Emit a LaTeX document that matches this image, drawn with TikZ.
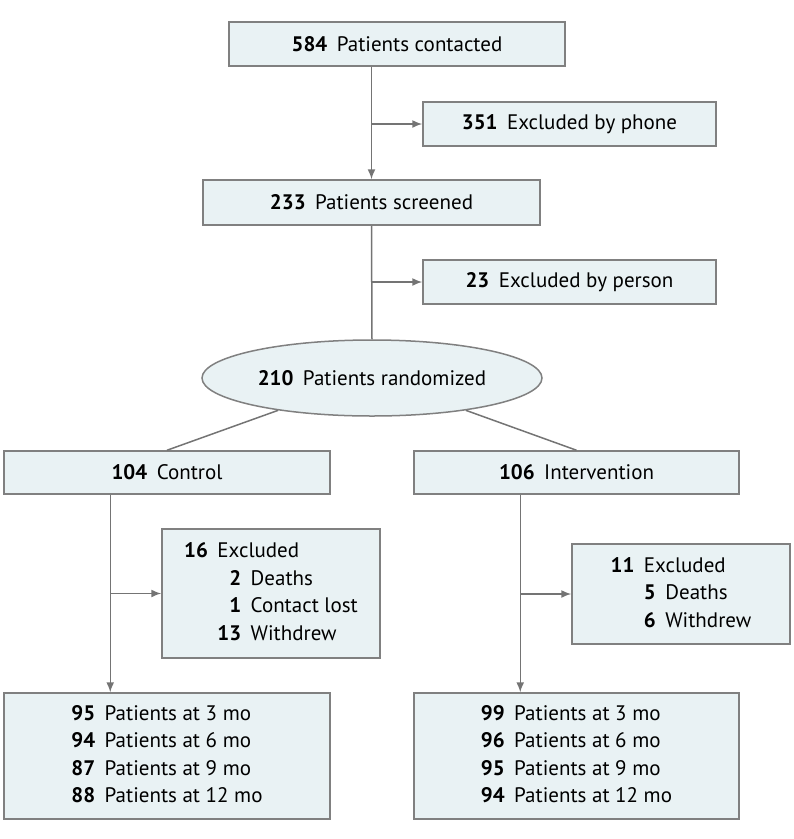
\documentclass[tikz,border=0pt]{standalone}
\usepackage{fontspec}
\setmainfont{PT Sans}
\usetikzlibrary{shapes.geometric,arrows.meta,calc}

\definecolor{boxfill}{HTML}{E9F2F4}
\definecolor{boxline}{HTML}{808080}
\definecolor{flowline}{HTML}{747474}

\tikzstyle{box} = [rectangle, draw=boxline, fill=boxfill, line width=1.5pt,
                   inner sep=0pt, text centered,
                   font=\fontsize{21}{27.5}\selectfont]
\tikzstyle{ovalbox} = [ellipse, draw=boxline, fill=boxfill, line width=1.5pt,
                       inner sep=0pt, text centered,
                       font=\fontsize{21}{27.5}\selectfont]
\tikzstyle{arrow} = [line width=1.5pt, draw=flowline, ->,
                     >={Latex[length=10pt,width=8pt]}]
\tikzstyle{line} = [line width=1.5pt, draw=flowline]

\newcommand{\cnt}[2]{\textbf{#1}\hspace{0.45em}#2}

\begin{document}
\begin{tikzpicture}[x=1pt,y=-1pt]
  \useasboundingbox (0,0) rectangle (794,839);
  %screening
  \node (contact) [box, minimum width=336pt, minimum height=44pt] at (397,44)
        {\cnt{584}{Patients contacted}};
  \node (phone) [box, minimum width=293pt, minimum height=44pt] at (569.5,124)
        {\cnt{351}{Excluded by phone}};
  \node (screen) [box, minimum width=337pt, minimum height=45pt] at (371.5,202.5)
        {\cnt{233}{Patients screened}};
  \node (person) [box, minimum width=293pt, minimum height=44pt] at (569.5,282)
        {\cnt{23}{Excluded by person}};
  \node (rand) [ovalbox, minimum width=340pt, minimum height=76pt] at (372,378)
        {\cnt{210}{Patients randomized}};
  %arms
  \node (control) [box, minimum width=326pt, minimum height=43pt] at (167,472.5)
        {\cnt{104}{Control}};
  \node (interv) [box, minimum width=325pt, minimum height=43pt] at (576.5,472.5)
        {\cnt{106}{Intervention}};
  \node (exctrl) [box, minimum width=218pt, minimum height=129pt] at (271,593.5)
        {\begin{tabular}{@{}l@{}r@{\hspace{0.45em}}l@{}}
          \textbf{16}\hspace{0.45em} & \multicolumn{2}{@{}l@{}}{Excluded}\\
          & \textbf{2} & Deaths\\
          & \textbf{1} & Contact lost\\
          & \textbf{13} & Withdrew
        \end{tabular}};
  \node (exint) [box, minimum width=218pt, minimum height=100pt] at (681,594)
        {\begin{tabular}{@{}l@{}r@{\hspace{0.45em}}l@{}}
          \textbf{11}\hspace{0.45em} & \multicolumn{2}{@{}l@{}}{Excluded}\\
          & \textbf{5} & Deaths\\
          & \textbf{6} & Withdrew
        \end{tabular}};
  %follow-up
  \node (fuctrl) [box, minimum width=326pt, minimum height=126pt] at (167,756)
        {\begin{tabular}{@{}r@{\hspace{0.45em}}l@{}}
          \textbf{95} & Patients at 3 mo\\
          \textbf{94} & Patients at 6 mo\\
          \textbf{87} & Patients at 9 mo\\
          \textbf{88} & Patients at 12 mo
        \end{tabular}};
  \node (fuint) [box, minimum width=325pt, minimum height=126pt] at (576.5,756)
        {\begin{tabular}{@{}r@{\hspace{0.45em}}l@{}}
          \textbf{99} & Patients at 3 mo\\
          \textbf{96} & Patients at 6 mo\\
          \textbf{95} & Patients at 9 mo\\
          \textbf{94} & Patients at 12 mo
        \end{tabular}};
  %connections
  \draw [arrow] (screen.north |- contact.south) -- (screen.north);
  \draw [arrow] (phone.west -| screen.north) -- (phone.west);
  \draw [line] (screen.south) -- (rand.north);
  \draw [arrow] (person.west -| screen.south) -- (person.west);
  % rand -> arms
  \draw [line] (rand.199) -- (control.north);
  \draw [line] (rand.341) -- (interv.north);
  % control arm
  \coordinate (ctrldrop) at ($(control.south west)+(107,0)$);
  \draw [arrow] (ctrldrop) -- (ctrldrop |- fuctrl.north);
  \draw [arrow] (exctrl.west -| ctrldrop) -- (exctrl.west);
  % intervention arm
  \coordinate (intdrop) at ($(interv.south west)+(107,0)$);
  \draw [arrow] (intdrop) -- (intdrop |- fuint.north);
  \draw [arrow] (exint.west -| intdrop) -- (exint.west);
\end{tikzpicture}
\end{document}
